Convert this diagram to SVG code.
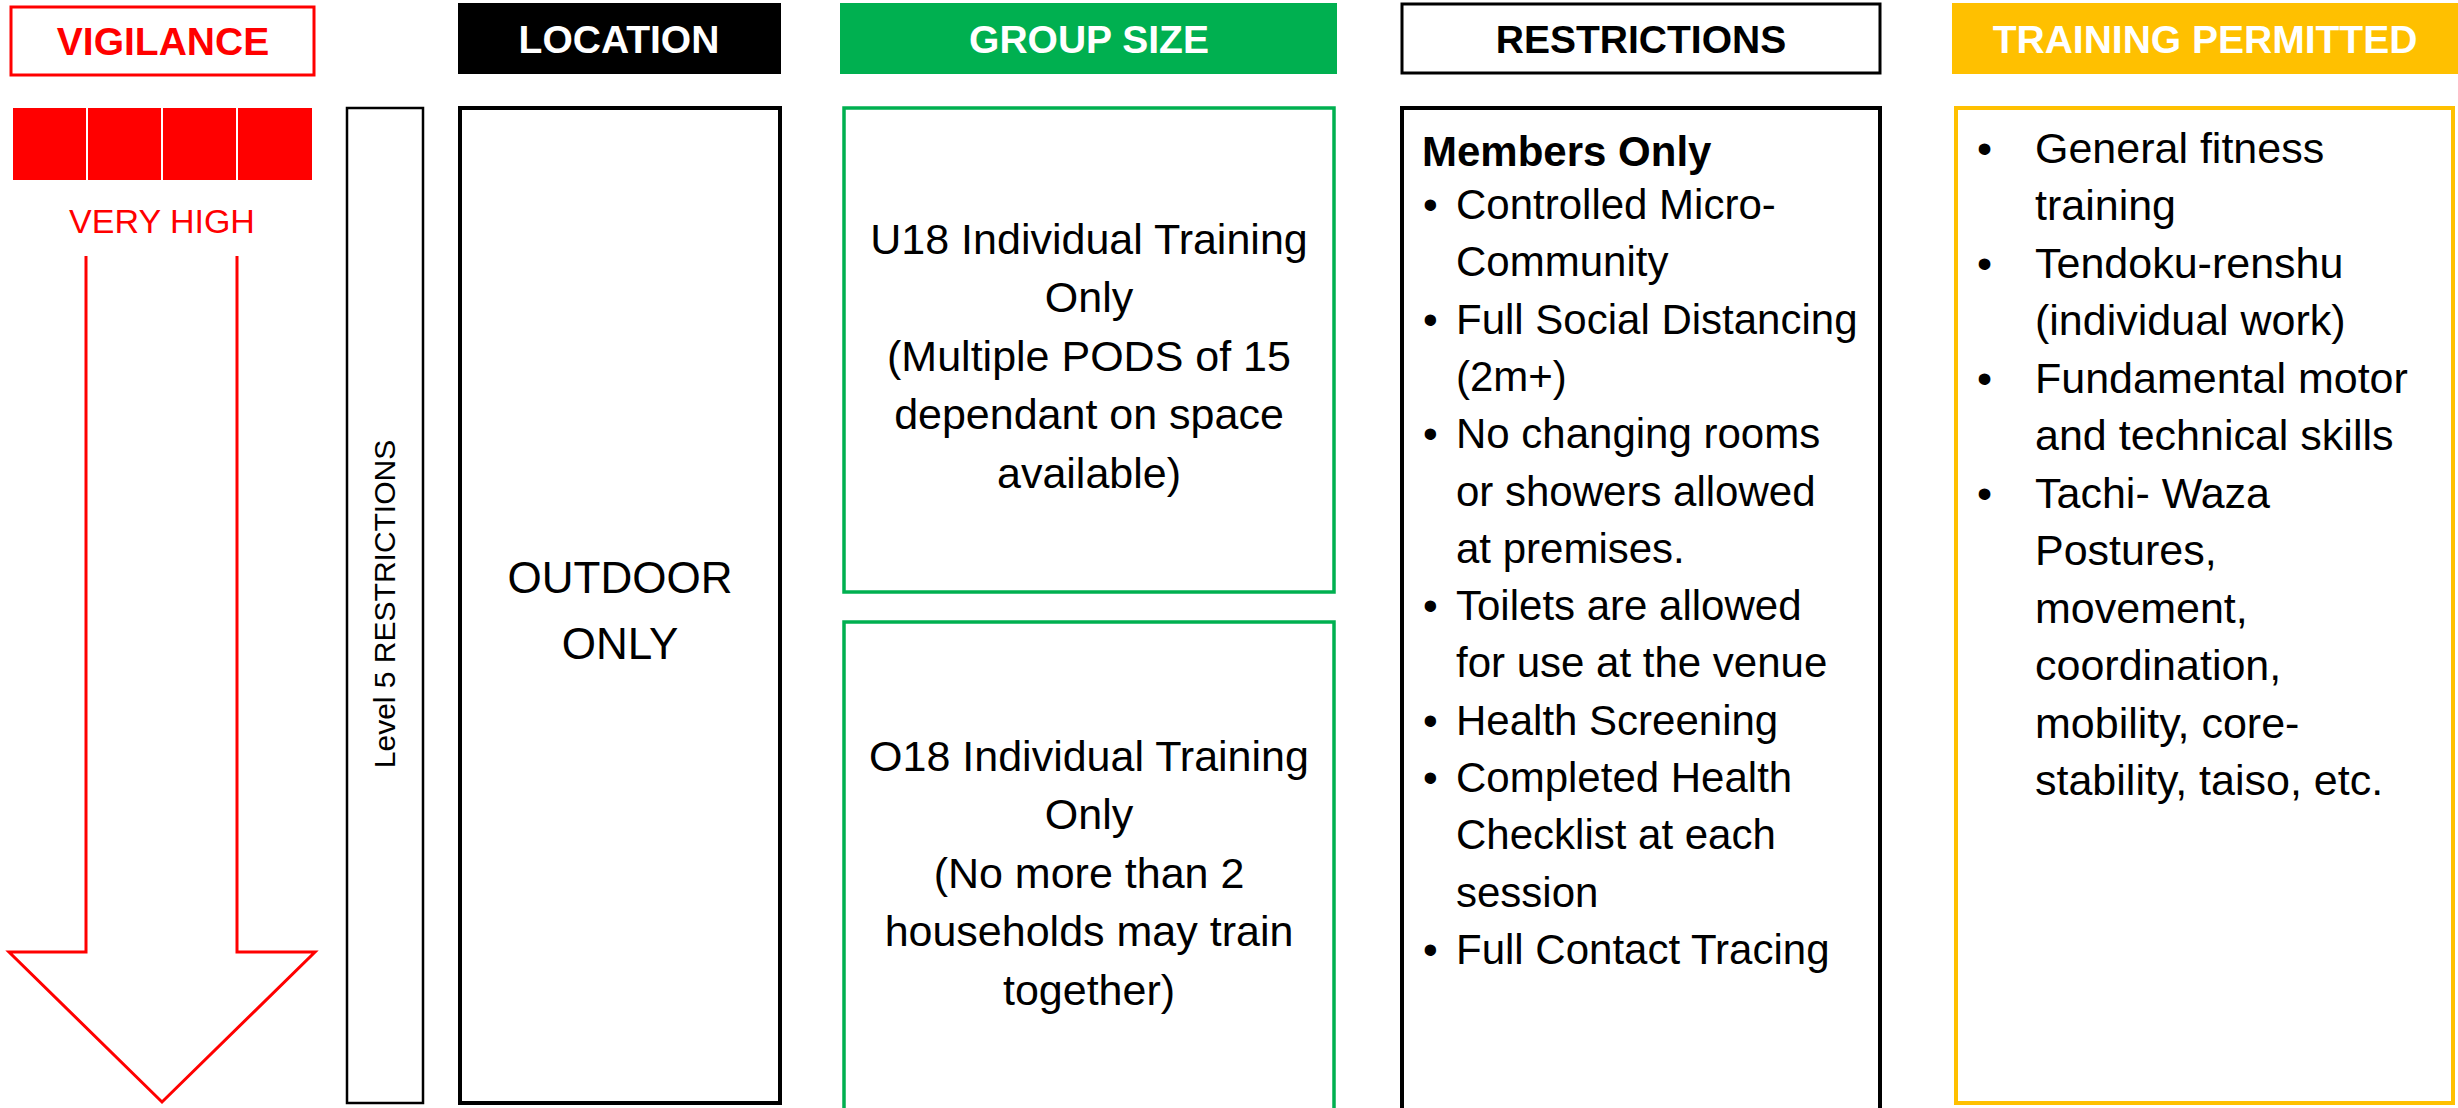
<svg xmlns="http://www.w3.org/2000/svg" width="2458" height="1108" viewBox="0 0 2458 1108">
<style>
text{font-family:"Liberation Sans",Arial,sans-serif}
.hd{font-size:39px;font-weight:bold;text-anchor:middle}
.bd{font-size:43px;fill:#000}
.rs{font-size:42px}
.c{text-anchor:middle}
.red{fill:#FF0000}
</style>
<rect width="2458" height="1108" fill="#fff"/>
<g id="vigilance-header">
<rect x="11" y="7" width="303" height="68" fill="#fff" stroke="#FF0000" stroke-width="3"/>
<text class="hd red" x="163" y="55">VIGILANCE</text>
</g>
<g id="location-header">
<rect x="458" y="3" width="323" height="71" fill="#000"/>
<text class="hd" x="619" y="53" fill="#fff">LOCATION</text>
</g>
<g id="groupsize-header">
<rect x="840" y="3" width="497" height="71" fill="#00B050"/>
<text class="hd" x="1089" y="53" fill="#fff">GROUP SIZE</text>
</g>
<g id="restrictions-header">
<rect x="1402" y="4" width="478" height="69" fill="#fff" stroke="#000" stroke-width="3"/>
<text class="hd" x="1641" y="53" fill="#000">RESTRICTIONS</text>
</g>
<g id="training-header">
<rect x="1952" y="3" width="506" height="71" fill="#FFC000"/>
<text class="hd" x="2205" y="53" fill="#fff">TRAINING PERMITTED</text>
</g>
<g id="vigilance-level">
<rect x="13" y="108" width="73" height="72" fill="#FF0000"/>
<rect x="88" y="108" width="73" height="72" fill="#FF0000"/>
<rect x="163" y="108" width="73" height="72" fill="#FF0000"/>
<rect x="238" y="108" width="74" height="72" fill="#FF0000"/>
<text class="c red" x="162" y="233" font-size="34">VERY HIGH</text>
</g>
<g id="connectors">
<path d="M86 256 V952 H9 L162 1102 L315 952 H237 V256" fill="none" stroke="#FF0000" stroke-width="3"/>
</g>
<g id="level5">
<rect x="347" y="108" width="76" height="995" fill="#fff" stroke="#000" stroke-width="2.5"/>
<text class="c" transform="translate(395 604) rotate(-90)" font-size="30" fill="#000">Level 5 RESTRICTIONS</text>
</g>
<g id="location">
<rect x="460" y="108" width="320" height="995" fill="#fff" stroke="#000" stroke-width="4"/>
<text class="c" x="620" y="593" font-size="44">OUTDOOR</text>
<text class="c" x="620" y="659" font-size="44">ONLY</text>
</g>
<g id="u18">
<rect x="844" y="108" width="490" height="484" fill="#fff" stroke="#00B050" stroke-width="3.5"/>
<text class="bd c" x="1089" y="254">U18 Individual Training</text>
<text class="bd c" x="1089" y="312">Only</text>
<text class="bd c" x="1089" y="371">(Multiple PODS of 15</text>
<text class="bd c" x="1089" y="429">dependant on space</text>
<text class="bd c" x="1089" y="488">available)</text>
</g>
<g id="o18">
<rect x="844" y="622" width="490" height="500" fill="#fff" stroke="#00B050" stroke-width="3.5"/>
<text class="bd c" x="1089" y="771">O18 Individual Training</text>
<text class="bd c" x="1089" y="829">Only</text>
<text class="bd c" x="1089" y="888">(No more than 2</text>
<text class="bd c" x="1089" y="946">households may train</text>
<text class="bd c" x="1089" y="1005">together)</text>
</g>
<g id="restrictions">
<rect x="1402" y="108" width="478" height="1014" fill="#fff" stroke="#000" stroke-width="4"/>
<text x="1422" y="166" font-size="42" font-weight="bold">Members Only</text>
<g class="bd rs">
<text x="1423" y="219">•</text><text x="1456" y="219">Controlled Micro-</text>
<text x="1456" y="276">Community</text>
<text x="1423" y="334">•</text><text x="1456" y="334">Full Social Distancing</text>
<text x="1456" y="391">(2m+)</text>
<text x="1423" y="448">•</text><text x="1456" y="448">No changing rooms</text>
<text x="1456" y="506">or showers allowed</text>
<text x="1456" y="563">at premises.</text>
<text x="1423" y="620">•</text><text x="1456" y="620">Toilets are allowed</text>
<text x="1456" y="677">for use at the venue</text>
<text x="1423" y="735">•</text><text x="1456" y="735">Health Screening</text>
<text x="1423" y="792">•</text><text x="1456" y="792">Completed Health</text>
<text x="1456" y="849">Checklist at each</text>
<text x="1456" y="907">session</text>
<text x="1423" y="964">•</text><text x="1456" y="964">Full Contact Tracing</text>
</g>
</g>
<g id="training">
<rect x="1956" y="108" width="497" height="995" fill="#fff" stroke="#FFC000" stroke-width="4"/>
<g class="bd">
<text x="1977" y="163">•</text><text x="2035" y="163">General fitness</text>
<text x="2035" y="220">training</text>
<text x="1977" y="278">•</text><text x="2035" y="278">Tendoku-renshu</text>
<text x="2035" y="335">(individual work)</text>
<text x="1977" y="393">•</text><text x="2035" y="393">Fundamental motor</text>
<text x="2035" y="450">and technical skills</text>
<text x="1977" y="508">•</text><text x="2035" y="508">Tachi- Waza</text>
<text x="2035" y="565">Postures,</text>
<text x="2035" y="623">movement,</text>
<text x="2035" y="680">coordination,</text>
<text x="2035" y="738">mobility, core-</text>
<text x="2035" y="795">stability, taiso, etc.</text>
</g>
</g>
</svg>
